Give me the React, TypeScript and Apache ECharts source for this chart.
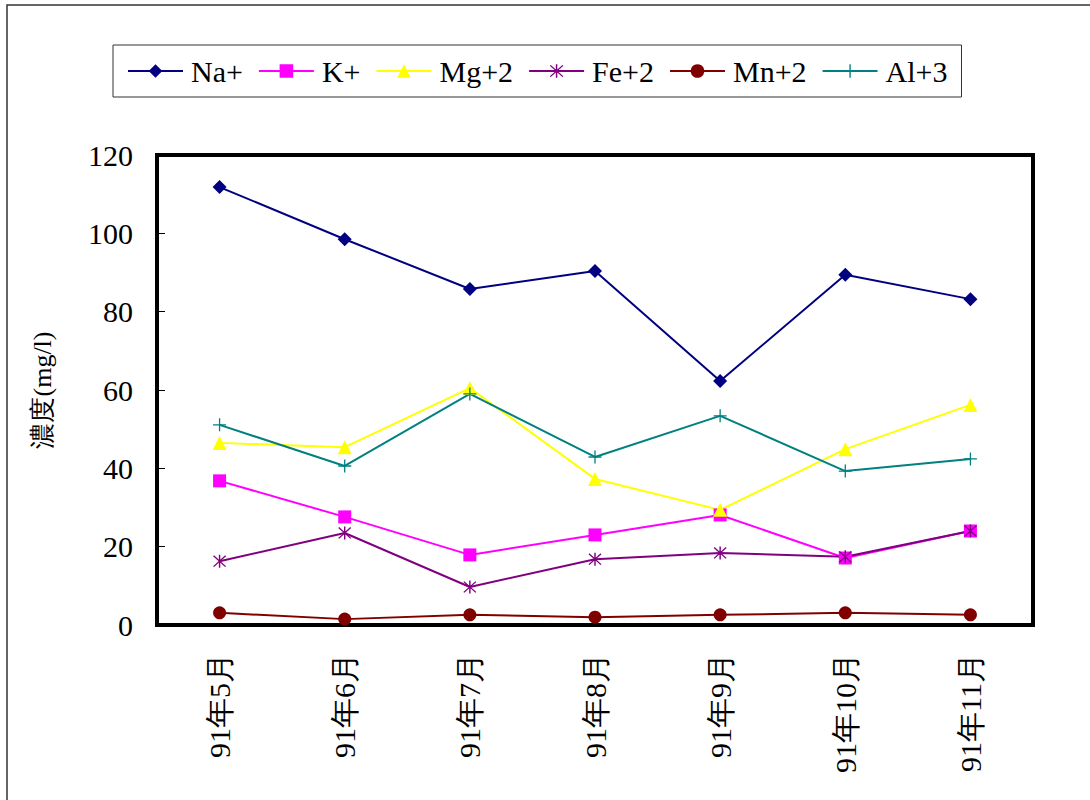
import React, { useEffect, useRef } from "react";
import * as echarts from "echarts";

const months = ["91年5月", "91年6月", "91年7月", "91年8月", "91年9月", "91年10月", "91年11月"];
const yTicks = { min: 0, max: 120, interval: 20 };

const naValues = [111.8, 98.5, 85.8, 90.4, 62.3, 89.4, 83.2];
const kValues = [36.8, 27.6, 17.9, 23.0, 28.1, 17.1, 24.0];
const mgValues = [46.5, 45.4, 60.5, 37.3, 29.4, 44.9, 56.2];
const feValues = [16.3, 23.5, 9.7, 16.8, 18.4, 17.4, 24.0];
const mnValues = [3.1, 1.5, 2.6, 2.0, 2.6, 3.1, 2.6];
const alValues = [51.1, 40.6, 59.0, 42.9, 53.4, 39.3, 42.4];

const FONT = "Liberation Serif";

const PLUS = "path://M-0.6,-6 L0.6,-6 L0.6,6 L-0.6,6 Z M-6,-0.6 L6,-0.6 L6,0.6 L-6,0.6 Z";
const STAR = "path://M-0.6,-6 L0.6,-6 L0.6,6 L-0.6,6 Z M-4.6,-5.4 L5.4,4.6 L4.6,5.4 L-5.4,-4.6 Z M4.6,-5.4 L5.4,-4.6 L-4.6,5.4 L-5.4,4.6 Z";

function lineSeries(name: string, data: number[], color: string, symbol: string, size: number) {
  return {
    name,
    type: "line",
    data,
    symbol,
    symbolSize: size,
    showAllSymbol: true,
    lineStyle: { color, width: 2 },
    itemStyle: { color },
    emphasis: { disabled: true },
  };
}

export default function App() {
  const ref = useRef<HTMLDivElement>(null);

  useEffect(() => {
    if (!ref.current) return;
    const chart = echarts.init(ref.current, null, { renderer: "svg" });
    chart.setOption({
      animation: false,
      backgroundColor: "#fff",
      textStyle: { fontFamily: FONT },
      graphic: [
        {
          type: "rect",
          shape: { x: 7, y: 5, width: 1100, height: 820 },
          style: { fill: "none", stroke: "#333", lineWidth: 1.5 },
          silent: true,
        },
      ],
      legend: {
        left: 113,
        top: 45,
        padding: [11, 14, 11, 14],
        itemGap: 15,
        itemWidth: 55,
        itemHeight: 17,
        borderColor: "#333",
        borderWidth: 1,
        textStyle: { fontFamily: FONT, fontSize: 30, color: "#000", padding: [0, 0, 0, 3] },
        data: ["Na+", "K+", "Mg+2", "Fe+2", "Mn+2", "Al+3"],
      },
      grid: {
        left: 157,
        top: 155,
        right: 57,
        bottom: 175,
        show: true,
        borderColor: "#000",
        borderWidth: 4,
        backgroundColor: "transparent",
      },
      xAxis: {
        type: "category",
        data: months,
        boundaryGap: true,
        axisLine: { lineStyle: { color: "#000", width: 4 } },
        axisTick: { inside: true, length: 8, lineStyle: { color: "#000", width: 1 } },
        axisLabel: {
          rotate: 90,
          margin: 28,
          fontFamily: FONT,
          fontSize: 30,
          color: "#000",
          interval: 0,
        },
      },
      yAxis: {
        type: "value",
        min: yTicks.min,
        max: yTicks.max,
        interval: yTicks.interval,
        name: "濃度(mg/l)",
        nameLocation: "middle",
        nameRotate: 90,
        nameGap: 102,
        nameTextStyle: { fontFamily: FONT, fontSize: 26, color: "#000" },
        axisLine: { show: true, lineStyle: { color: "#000", width: 4 } },
        axisTick: { show: true, inside: true, length: 8, lineStyle: { color: "#000", width: 1 } },
        splitLine: { show: false },
        axisLabel: { margin: 24, fontFamily: FONT, fontSize: 30, color: "#000" },
      },
      series: [
        lineSeries("Na+", naValues, "#000080", "diamond", 14),
        lineSeries("K+", kValues, "#FF00FF", "rect", 13),
        lineSeries("Mg+2", mgValues, "#FFFF00", "triangle", 14),
        lineSeries("Fe+2", feValues, "#800080", STAR, 13),
        lineSeries("Mn+2", mnValues, "#800000", "circle", 13),
        lineSeries("Al+3", alValues, "#008080", PLUS, 13),
      ],
    });
    return () => chart.dispose();
  }, []);

  return (
    <div
      ref={ref}
      style={{ position: "fixed", left: 0, top: 0, width: 1090, height: 800, background: "#fff" }}
    />
  );
}
